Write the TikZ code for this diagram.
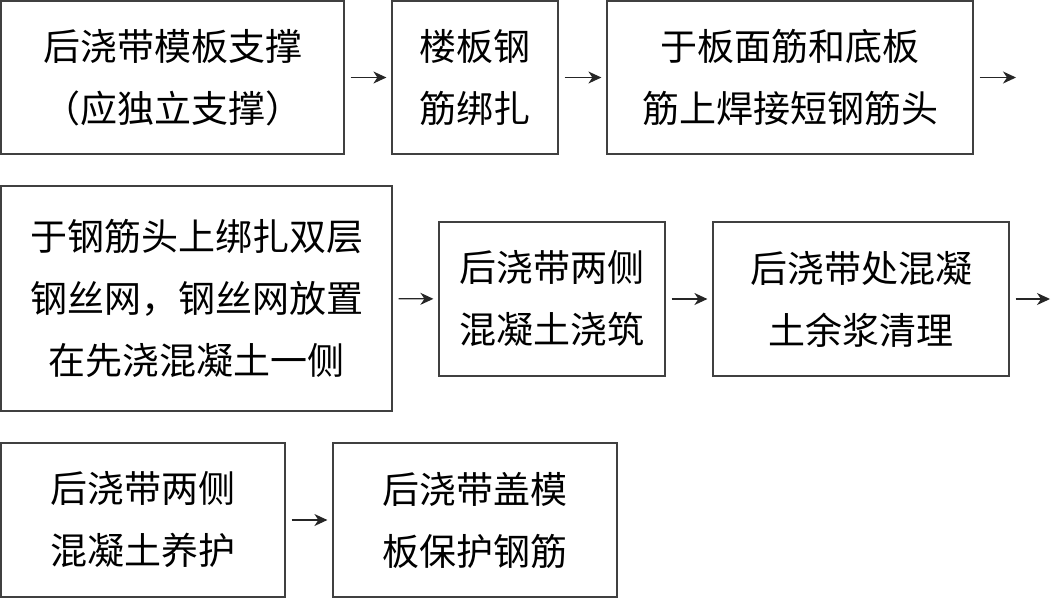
\documentclass[tikz,border=0pt]{standalone}
\usepackage{fontspec}
\newfontfamily\cjk{Noto Sans CJK SC}
\usepackage{tikz}
\usetikzlibrary{arrows.meta}

\begin{document}
\begin{tikzpicture}[x=1pt, y=1pt,
    stepbox/.style={draw=black!75, line width=1.2pt, inner sep=0pt, align=center,
      font=\cjk\fontsize{37}{62}\selectfont},
    flowarrow/.style={-{Stealth[length=13pt, width=12pt, inset=4pt]}, line width=1.3pt, black!85,
      shorten <=6pt, shorten >=5pt}]
  \useasboundingbox (0,0) rectangle (1051,-598);

  % First row
  \node[stepbox, minimum width=343, minimum height=153] (formwork) at (172.5,-77.5)
    {后浇带模板支撑\\（应独立支撑）};
  \node[stepbox, minimum width=166, minimum height=153] (rebar) at (475,-77.5)
    {楼板钢\\筋绑扎};
  \node[stepbox, minimum width=366, minimum height=153] (weld) at (790,-77.5)
    {于板面筋和底板\\筋上焊接短钢筋头};
  \coordinate (rowend1) at (1016,-77.5);

  % Second row
  \node[stepbox, minimum width=391, minimum height=225] (mesh) at (196.5,-298.5)
    {于钢筋头上绑扎双层\\钢丝网，钢丝网放置\\在先浇混凝土一侧};
  \node[stepbox, minimum width=226, minimum height=154] (pour) at (552,-299)
    {后浇带两侧\\混凝土浇筑};
  \node[stepbox, minimum width=296, minimum height=154] (clean) at (861,-299)
    {后浇带处混凝\\土余浆清理};
  \coordinate (rowend2) at (1050,-299);

  % Third row
  \node[stepbox, minimum width=284, minimum height=154] (cure) at (143,-520)
    {后浇带两侧\\混凝土养护};
  \node[stepbox, minimum width=284, minimum height=154] (cover) at (475,-520)
    {后浇带盖模\\板保护钢筋};

  % Arrows
  \draw[flowarrow] (formwork) -- (rebar);
  \draw[flowarrow] (rebar) -- (weld);
  \draw[flowarrow, shorten >=0pt] (weld) -- (rowend1);
  \draw[flowarrow] (mesh) -- (pour);
  \draw[flowarrow] (pour) -- (clean);
  \draw[flowarrow, shorten >=0pt] (clean) -- (rowend2);
  \draw[flowarrow] (cure) -- (cover);
\end{tikzpicture}
\end{document}
